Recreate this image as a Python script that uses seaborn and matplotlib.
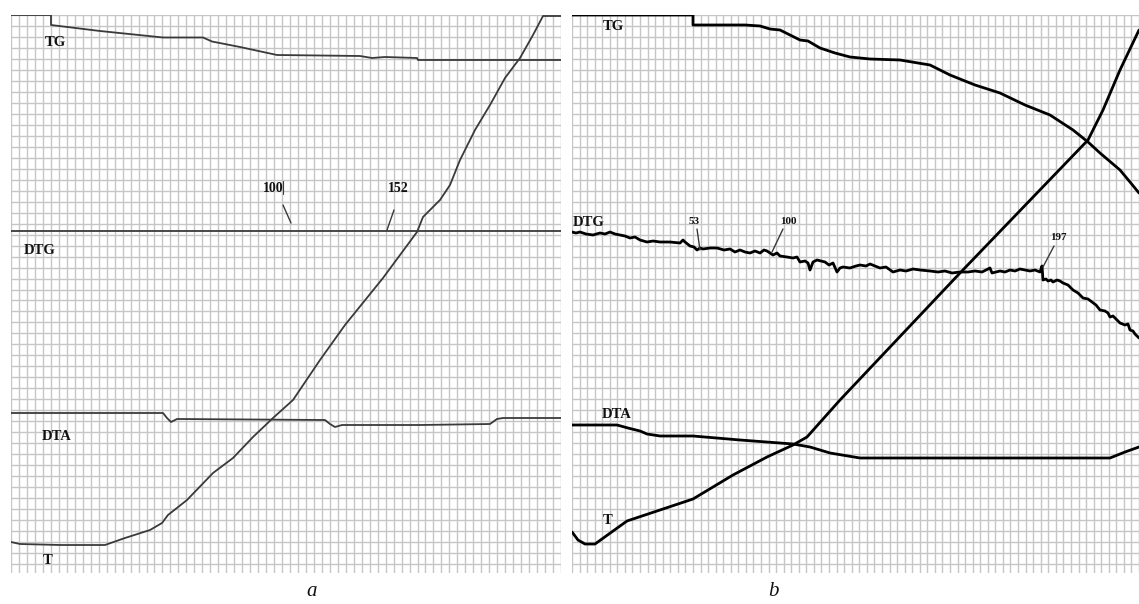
import numpy as np
import pandas as pd
import matplotlib
matplotlib.use("Agg")
import matplotlib.pyplot as plt
import seaborn as sns

# ---------------- data (in picture units) ----------------
# Panel a
a_tg_x = [11, 51, 51, 100, 163, 203, 212, 240, 277, 320, 360, 372, 385, 417, 418, 561]
a_tg_y = [15, 15, 25, 31, 37.5, 37.5, 41.5, 47, 55, 55.5, 56, 58, 57, 58, 60, 60]

a_dtg_x = [11, 561]
a_dtg_y = [231, 231]

a_dta_x = [11, 163, 167, 171, 177, 250, 325, 330, 335, 342, 420, 490, 497, 503, 561]
a_dta_y = [413, 413, 418, 422, 419, 419.5, 420, 424, 427, 425, 425, 424, 419, 418, 418]

a_t_x = [11, 20, 60, 105, 125, 150, 162, 168, 187, 213, 233, 253, 273, 293, 320, 345,
         383, 417, 423, 440, 450, 460, 475, 490, 505, 520, 533, 543, 561]
a_t_y = [542, 544, 545, 545, 538, 530, 523, 515, 500, 473, 458, 437, 418, 400, 360, 325,
         278, 232, 217, 200, 185, 160, 130, 105, 78, 58, 35, 16, 16]

# Panel b
b_tg_x = [572, 693, 693, 745, 760, 770, 780, 790, 800, 808, 820, 835, 850, 870, 900, 930,
          950, 975, 1000, 1025, 1050, 1073, 1088, 1100, 1120, 1130, 1139]
b_tg_y = [15, 15, 25, 25, 26, 29, 30, 35, 40, 41, 48, 53, 57, 59, 60, 65,
          75, 85, 93, 105, 115, 130, 142, 153, 170, 182, 193]

b_dtg_x = [572, 576, 580, 586, 593, 600, 605, 610, 615, 620, 625, 630, 635, 640, 647, 653,
           660, 670, 680, 683, 685, 690, 694, 697, 700, 703, 710, 717, 724, 730, 735, 740,
           745, 750, 755, 760, 764, 767, 773, 777, 780, 787, 793, 797, 800, 805, 808, 810,
           813, 817, 821, 825, 829, 833, 837, 840, 843, 850, 856, 860, 866, 870, 875, 880,
           886, 893, 900, 906, 913, 920, 930, 938, 945, 952, 960, 968, 975, 982, 988, 990,
           992, 1000, 1005, 1010, 1015, 1020, 1025, 1030, 1035, 1040, 1042, 1043, 1046,
           1048, 1051, 1053, 1057, 1060, 1063, 1068, 1073, 1078, 1083, 1088, 1092, 1096,
           1100, 1105, 1108, 1110, 1113, 1115, 1118, 1120, 1125, 1128, 1130, 1133, 1135, 1139]
b_dtg_y = [232, 233, 232, 234, 235, 233, 234, 232, 234, 235, 236, 238, 237, 240, 242, 241,
           242, 242, 243, 240, 242, 246, 247, 250, 248, 249, 248, 248, 250, 249, 252, 250,
           252, 253, 251, 253, 250, 251, 255, 253, 256, 257, 258, 257, 262, 261, 263, 270,
           262, 260, 261, 262, 265, 263, 272, 268, 267, 268, 266, 265, 266, 264, 266, 268,
           267, 272, 270, 271, 269, 270, 271, 272, 271, 273, 272, 272, 271, 272, 269, 268,
           273, 271, 272, 270, 271, 269, 270, 271, 270, 272, 266, 280, 279,
           281, 280, 282, 280, 281, 283, 285, 290, 293, 298, 299, 302, 305,
           310, 311, 313, 317, 316, 318, 321, 323, 325, 324, 330, 331, 334, 338]

b_dta_x = [572, 617, 628, 640, 647, 660, 693, 740, 793, 810, 830, 860, 1110, 1125, 1139]
b_dta_y = [425, 425, 428, 431, 434, 436, 436, 440, 444, 447, 453, 458, 458, 452, 447]

b_t_x = [572, 578, 585, 595, 627, 693, 733, 767, 793, 807, 840, 960, 1088, 1103, 1120, 1139]
b_t_y = [532, 540, 544, 544, 521, 499, 475, 457, 445, 437, 400, 273, 140, 110, 70, 30]

# annotations: (text, x, y)
a_labels = [("TG", 45, 42), ("DTG", 24, 250), ("DTA", 42, 437), ("T", 43, 561)]
a_marks = [("100", 263, 188), ("152", 388, 188)]
b_labels = [("TG", 603, 26), ("DTG", 573, 222), ("DTA", 602, 415), ("T", 603, 520)]
b_marks = [("53", 689, 221), ("100", 780, 222), ("197", 1050, 238)]
a_leaders = [((283, 291), (205, 223)), ((394, 387), (210, 230))]
b_leaders = [((697, 700), (229, 250)), ((783, 772), (229, 252)), ((1054, 1043), (246, 267))]
panel_names = [("a", 312, 592), ("b", 773, 592)]

# ---------------- figure ----------------
sns.set_theme(style="white")
plt.rcParams["font.family"] = ["Liberation Serif", "DejaVu Serif"]

W, H = 1139, 604
fig = plt.figure(figsize=(W / 100, H / 100), dpi=100)
fig.patch.set_facecolor("white")

grid_color = "#c6c6c6"


def make_panel(x0, x1, ncols, top=15, bottom=564, tick_bottom=573):
    ax = fig.add_axes([x0 / W, 1 - tick_bottom / H, (x1 - x0) / W, (tick_bottom - top) / H])
    ax.set_xlim(x0, x1)
    ax.set_ylim(tick_bottom, top)
    ax.set_xticks(np.linspace(x0, x1, ncols + 1))
    ax.set_yticks(np.linspace(top, bottom, 51))
    ax.grid(True, color=grid_color, lw=1.0)
    ax.tick_params(length=0, labelbottom=False, labelleft=False)
    for s in ax.spines.values():
        s.set_visible(False)
    ax.set_facecolor("white")
    ax.set_axisbelow(True)
    return ax


ax_a = make_panel(11, 561, 69)
ax_b = make_panel(572, 1139, 75)

col_a = "#3a3a3a"
col_b = "#000000"

for xs, ys in [(a_tg_x, a_tg_y), (a_dtg_x, a_dtg_y), (a_dta_x, a_dta_y), (a_t_x, a_t_y)]:
    df = pd.DataFrame({"x": xs, "y": ys})
    sns.lineplot(data=df, x="x", y="y", ax=ax_a, sort=False, estimator=None,
                 color=col_a, lw=1.3)

for xs, ys in [(b_tg_x, b_tg_y), (b_dtg_x, b_dtg_y), (b_dta_x, b_dta_y), (b_t_x, b_t_y)]:
    df = pd.DataFrame({"x": xs, "y": ys})
    sns.lineplot(data=df, x="x", y="y", ax=ax_b, sort=False, estimator=None,
                 color=col_b, lw=2.0)

for ax in (ax_a, ax_b):
    ax.set_xlabel("")
    ax.set_ylabel("")

for (lx, ly) in a_leaders:
    ax_a.plot(lx, ly, color=col_a, lw=1.0)
ax_a.plot([283, 283], [181, 194], color=col_a, lw=0.8)
for (lx, ly) in b_leaders:
    ax_b.plot(lx, ly, color=col_a, lw=1.0)

for t, x, y in a_labels + b_labels:
    ax = ax_a if x < 566 else ax_b
    ax.text(x, y, t, fontsize=10.5, fontweight="bold", ha="left", va="center", color="#111111")
for t, x, y in a_marks:
    ax_a.text(x, y, t, fontsize=10, fontweight="bold", ha="left", va="center", color="#111111")
for t, x, y in b_marks:
    ax_b.text(x, y, t, fontsize=8, fontweight="bold", ha="left", va="center", color="#111111")

for t, x, y in panel_names:
    fig.text(x / W, 1 - y / H, t, fontsize=15, fontstyle="italic", ha="center", va="center",
             color="#111111")

fig.savefig("out.png", dpi=100, facecolor="white")
